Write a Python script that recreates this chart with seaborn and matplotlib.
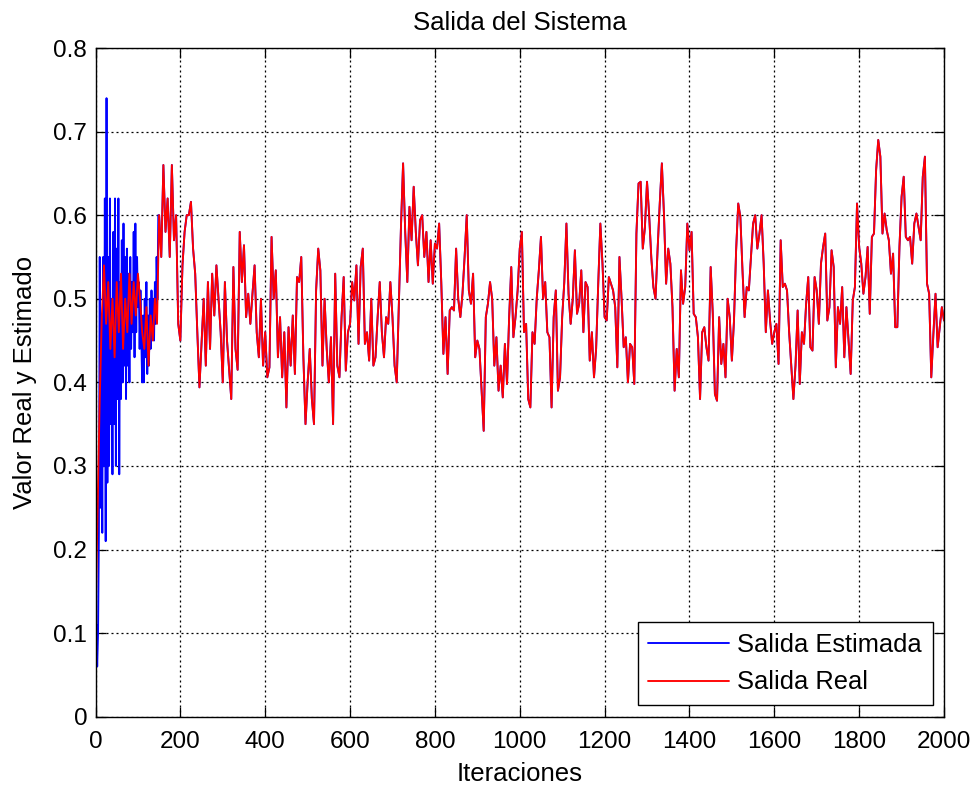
import numpy as np
import matplotlib
matplotlib.use("Agg")
import matplotlib.pyplot as plt
import seaborn as sns

# Salida real, one value every 5 iterations (0 .. 2000)
paso_real = 5
salida_real = [
    0.11, 0.25, 0.38, 0.48, 0.54, 0.47, 0.52, 0.44, 0.50, 0.43,
    0.52, 0.46, 0.53, 0.44, 0.50, 0.46, 0.53, 0.47, 0.52, 0.48,
    0.53, 0.50, 0.46, 0.44, 0.49, 0.42, 0.48, 0.45, 0.50, 0.47,
    0.60, 0.55, 0.66, 0.58, 0.62, 0.55, 0.66, 0.57, 0.60, 0.47,
    0.45, 0.54, 0.58, 0.60, 0.60, 0.616, 0.56, 0.53, 0.46, 0.394,
    0.446, 0.50, 0.42, 0.52, 0.44, 0.53, 0.48, 0.54, 0.50, 0.46,
    0.40, 0.52, 0.45, 0.415, 0.38, 0.538, 0.44, 0.415, 0.58, 0.52,
    0.564, 0.478, 0.506, 0.47, 0.506, 0.54, 0.46, 0.43, 0.50, 0.42,
    0.46, 0.406, 0.418, 0.574, 0.50, 0.534, 0.43, 0.478, 0.406, 0.46,
    0.37, 0.466, 0.42, 0.48, 0.41, 0.526, 0.52, 0.55, 0.43, 0.35,
    0.40, 0.44, 0.38, 0.35, 0.51, 0.56, 0.534, 0.42, 0.50, 0.44,
    0.40, 0.454, 0.35, 0.53, 0.42, 0.406, 0.478, 0.526, 0.414, 0.46,
    0.47, 0.52, 0.498, 0.54, 0.446, 0.538, 0.56, 0.446, 0.46, 0.426,
    0.50, 0.42, 0.43, 0.478, 0.52, 0.46, 0.43, 0.478, 0.47, 0.52,
    0.478, 0.42, 0.40, 0.494, 0.586, 0.662, 0.58, 0.52, 0.61, 0.57,
    0.634, 0.58, 0.54, 0.594, 0.60, 0.55, 0.58, 0.52, 0.57, 0.518,
    0.566, 0.56, 0.59, 0.52, 0.434, 0.478, 0.41, 0.486, 0.49, 0.486,
    0.56, 0.50, 0.478, 0.506, 0.55, 0.60, 0.51, 0.494, 0.53, 0.43,
    0.45, 0.44, 0.39, 0.342, 0.478, 0.494, 0.52, 0.50, 0.42, 0.454,
    0.39, 0.42, 0.382, 0.446, 0.398, 0.478, 0.538, 0.454, 0.478, 0.51,
    0.56, 0.58, 0.46, 0.47, 0.38, 0.37, 0.46, 0.446, 0.50, 0.534,
    0.574, 0.50, 0.52, 0.46, 0.454, 0.37, 0.478, 0.51, 0.39, 0.406,
    0.478, 0.52, 0.59, 0.506, 0.47, 0.50, 0.558, 0.482, 0.494, 0.534,
    0.46, 0.52, 0.514, 0.426, 0.46, 0.406, 0.44, 0.518, 0.59, 0.542,
    0.478, 0.474, 0.526, 0.518, 0.51, 0.49, 0.418, 0.55, 0.50, 0.442,
    0.454, 0.40, 0.446, 0.442, 0.398, 0.578, 0.638, 0.64, 0.56, 0.585,
    0.64, 0.60, 0.55, 0.514, 0.50, 0.56, 0.614, 0.662, 0.60, 0.518,
    0.56, 0.542, 0.49, 0.39, 0.44, 0.406, 0.534, 0.494, 0.514, 0.59,
    0.558, 0.58, 0.482, 0.478, 0.454, 0.38, 0.46, 0.466, 0.442, 0.426,
    0.538, 0.482, 0.386, 0.378, 0.478, 0.422, 0.446, 0.406, 0.50, 0.478,
    0.426, 0.474, 0.558, 0.614, 0.598, 0.534, 0.478, 0.514, 0.51, 0.55,
    0.59, 0.60, 0.56, 0.578, 0.60, 0.542, 0.46, 0.51, 0.474, 0.446,
    0.46, 0.47, 0.422, 0.57, 0.514, 0.518, 0.51, 0.46, 0.42, 0.38,
    0.42, 0.486, 0.398, 0.46, 0.446, 0.494, 0.526, 0.442, 0.438, 0.526,
    0.51, 0.47, 0.542, 0.562, 0.578, 0.474, 0.49, 0.558, 0.538, 0.418,
    0.49, 0.47, 0.514, 0.43, 0.49, 0.45, 0.41, 0.498, 0.514, 0.614,
    0.562, 0.542, 0.506, 0.526, 0.562, 0.482, 0.574, 0.578, 0.654, 0.69,
    0.67, 0.578, 0.602, 0.582, 0.57, 0.53, 0.554, 0.466, 0.466, 0.562,
    0.622, 0.646, 0.574, 0.57, 0.574, 0.542, 0.59, 0.602, 0.586, 0.57,
    0.646, 0.67, 0.518, 0.506, 0.406, 0.458, 0.506, 0.442, 0.466, 0.49,
    0.474,
]

# Salida estimada during the transient (every 2 iterations, 0 .. 148);
# afterwards it sits right under the red curve
paso_est = 2
salida_estimada_inicio = [
    0.00, 0.11, 0.06, 0.10, 0.22, 0.55, 0.25, 0.45, 0.22, 0.55,
    0.30, 0.62, 0.21, 0.74, 0.28, 0.55, 0.30, 0.62, 0.35, 0.50,
    0.29, 0.58, 0.35, 0.62, 0.30, 0.56, 0.38, 0.62, 0.29, 0.52,
    0.38, 0.57, 0.40, 0.59, 0.42, 0.55, 0.38, 0.56, 0.42, 0.53,
    0.40, 0.55, 0.44, 0.52, 0.46, 0.58, 0.43, 0.59, 0.46, 0.55,
    0.49, 0.52, 0.44, 0.51, 0.45, 0.40, 0.48, 0.40, 0.50, 0.43,
    0.52, 0.41, 0.48, 0.42, 0.50, 0.44, 0.51, 0.46, 0.50, 0.45,
    0.52, 0.47, 0.55, 0.50, 0.60,
]

x_ticks = [0, 200, 400, 600, 800, 1000, 1200, 1400, 1600, 1800, 2000]
y_ticks = [0, 0.1, 0.2, 0.3, 0.4, 0.5, 0.6, 0.7, 0.8]
y_tick_labels = ["0", "0.1", "0.2", "0.3", "0.4", "0.5", "0.6", "0.7", "0.8"]

sns.set_theme(style="white")
plt.rcParams["font.family"] = ["Liberation Sans", "DejaVu Sans"]
plt.rcParams["text.color"] = "black"

iter_real = np.arange(len(salida_real)) * paso_real
real = np.array(salida_real)
iter_ini = np.arange(len(salida_estimada_inicio)) * paso_est
resto = iter_real > iter_ini[-1]
iter_est = np.concatenate([iter_ini, iter_real[resto]])
estimada = np.concatenate([salida_estimada_inicio, real[resto]])

fig = plt.figure(figsize=(9.76, 7.87), dpi=100)
ax = fig.add_axes([95.5 / 976, 1 - 716.7 / 787, (944 - 95.5) / 976, (716.7 - 48) / 787])

sns.lineplot(x=iter_est, y=estimada, color="#0000ff", linewidth=1.35,
             label="Salida Estimada", estimator=None, sort=False, ax=ax)
sns.lineplot(x=iter_real, y=real, color="#ff0000", linewidth=1.35,
             label="Salida Real", estimator=None, sort=False, ax=ax)

fs_tick = 17.5
fs_lab = 18.5
ax.set_xlim(0, 2000)
ax.set_ylim(0, 0.8)
ax.set_xticks(x_ticks)
ax.set_xticklabels([str(t) for t in x_ticks])
ax.set_yticks(y_ticks)
ax.set_yticklabels(y_tick_labels)
ax.tick_params(axis="both", direction="in", length=7, width=0.9, color="black",
               labelsize=fs_tick, labelcolor="black", top=True, right=True,
               bottom=True, left=True)
ax.tick_params(axis="x", pad=10.5)
ax.tick_params(axis="y", pad=6)

ax.grid(True, color="black", linestyle=(0, (1.6, 2.4)), linewidth=0.9)
ax.set_axisbelow(True)
for sp in ax.spines.values():
    sp.set_color("black")
    sp.set_linewidth(1.0)

ax.set_title("Salida del Sistema", fontsize=fs_lab, pad=13, color="black")
ax.set_xlabel("Iteraciones", fontsize=fs_lab, labelpad=6, color="black")
ax.set_ylabel("Valor Real y Estimado", fontsize=fs_lab, labelpad=12, color="black")

leg = ax.legend(loc="lower right", fontsize=18.4, frameon=True, fancybox=False,
                framealpha=1, edgecolor="black", borderaxespad=0.45,
                handlelength=3.15, handletextpad=0.32, labelspacing=0.52,
                borderpad=0.42, labelcolor="black")
leg.get_frame().set_linewidth(1.0)

fig.savefig("out.png", dpi=100, facecolor="white")
